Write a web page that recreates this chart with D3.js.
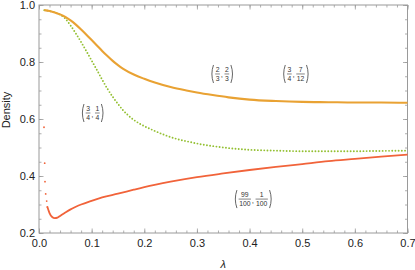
<!DOCTYPE html>
<html>
<head>
<meta charset="utf-8">
<script src="https://cdnjs.cloudflare.com/ajax/libs/d3/7.8.5/d3.min.js"></script>
<style>
  html, body { margin: 0; padding: 0; background: #fff; }
  svg text { font-family: "Liberation Sans", Arial, sans-serif; }
</style>
</head>
<body>
<svg id="chart" width="415" height="270"></svg>
<script>
// values
var orangeLam = [0.01, 0.02, 0.03, 0.04, 0.05, 0.06, 0.07, 0.08, 0.09, 0.10, 0.11, 0.12, 0.13, 0.14, 0.15, 0.16, 0.18, 0.20, 0.22, 0.25, 0.28, 0.30, 0.33, 0.36, 0.40, 0.45, 0.50, 0.55, 0.60, 0.65, 0.70];
var orangeVal = [0.982, 0.979, 0.974, 0.967, 0.958, 0.946, 0.931, 0.914, 0.896, 0.877, 0.858, 0.839, 0.821, 0.804, 0.789, 0.776, 0.756, 0.741, 0.728, 0.712, 0.700, 0.693, 0.684, 0.676, 0.668, 0.663, 0.660, 0.659, 0.658, 0.658, 0.657];

var greenLam = [0.01, 0.02, 0.03, 0.04, 0.05, 0.06, 0.07, 0.08, 0.09, 0.10, 0.11, 0.12, 0.13, 0.14, 0.15, 0.16, 0.17, 0.18, 0.19, 0.20, 0.22, 0.24, 0.26, 0.28, 0.30, 0.33, 0.36, 0.40, 0.45, 0.50, 0.55, 0.60, 0.65, 0.70];
var greenVal = [0.982, 0.979, 0.974, 0.966, 0.952, 0.928, 0.900, 0.870, 0.838, 0.805, 0.772, 0.738, 0.706, 0.678, 0.653, 0.630, 0.612, 0.597, 0.585, 0.575, 0.558, 0.543, 0.531, 0.522, 0.514, 0.505, 0.498, 0.492, 0.489, 0.487, 0.487, 0.487, 0.488, 0.489];

var redLam = [0.0095, 0.0108, 0.0114, 0.0127, 0.0146, 0.0158, 0.018, 0.020, 0.025, 0.030, 0.035, 0.040, 0.050, 0.060, 0.070, 0.080, 0.10, 0.12, 0.15, 0.18, 0.20, 0.25, 0.30, 0.35, 0.40, 0.45, 0.50, 0.55, 0.60, 0.65, 0.70];
var redVal = [0.571, 0.445, 0.380, 0.337, 0.312, 0.292, 0.280, 0.270, 0.256, 0.252, 0.254, 0.260, 0.272, 0.283, 0.292, 0.300, 0.313, 0.325, 0.338, 0.352, 0.361, 0.380, 0.396, 0.409, 0.421, 0.432, 0.442, 0.452, 0.460, 0.468, 0.475];
var redDotCount = 6; // first samples show as separate dots

var xTicks = [0, 0.1, 0.2, 0.3, 0.4, 0.5, 0.6, 0.7];
var yTicks = [0.2, 0.4, 0.6, 0.8, 1.0];

// pair labels: numerators, denominators, anchor (lambda, density)
var pairNum = [["2", "2"], ["3", "7"], ["3", "1"], ["99", "1"]];
var pairDen = [["3", "3"], ["4", "12"], ["4", "4"], ["100", "100"]];
var pairLam = [0.348, 0.488, 0.102, 0.407];
var pairVal = [0.758, 0.758, 0.621, 0.319];

var margin = {left: 39, top: 5, right: 7.5, bottom: 37};
var W = 415, H = 270;

var svg = d3.select("#chart");

var x = d3.scaleLinear().domain([0, 0.7]).range([margin.left, W - margin.right]);
var y = d3.scaleLinear().domain([0.2, 1.0]).range([H - margin.bottom, margin.top]);

var frameCol = "#9a9a9a";

// minor ticks
var xMinor = d3.range(0, 0.7001, 0.02).map(function(v){ return +v.toFixed(2); });
var yMinor = d3.range(0.2, 1.0001, 0.05).map(function(v){ return +v.toFixed(2); });

function styleAxis(g){
	g.select(".domain").remove();
	g.selectAll("line").attr("stroke", frameCol).attr("stroke-width", 0.8);
	g.selectAll("text").attr("fill", "#222").style("font-size", "11px");
}

svg.append("g").attr("transform", "translate(0," + y(0.2) + ")")
	.call(d3.axisBottom(x).tickValues(xMinor).tickSize(-2.5).tickFormat(""))
	.call(styleAxis);
svg.append("g").attr("transform", "translate(0," + y(0.2) + ")")
	.call(d3.axisBottom(x).tickValues(xTicks).tickSize(-4.5).tickPadding(6).tickFormat(d3.format(".1f")))
	.call(styleAxis);
svg.append("g").attr("transform", "translate(0," + y(1.0) + ")")
	.call(d3.axisTop(x).tickValues(xMinor).tickSize(-2.5).tickFormat(""))
	.call(styleAxis);
svg.append("g").attr("transform", "translate(0," + y(1.0) + ")")
	.call(d3.axisTop(x).tickValues(xTicks).tickSize(-4.5).tickFormat(""))
	.call(styleAxis);

svg.append("g").attr("transform", "translate(" + x(0) + ",0)")
	.call(d3.axisLeft(y).tickValues(yMinor).tickSize(-2.5).tickFormat(""))
	.call(styleAxis);
svg.append("g").attr("transform", "translate(" + x(0) + ",0)")
	.call(d3.axisLeft(y).tickValues(yTicks).tickSize(-4.5).tickPadding(4).tickFormat(d3.format(".1f")))
	.call(styleAxis);
svg.append("g").attr("transform", "translate(" + x(0.7) + ",0)")
	.call(d3.axisRight(y).tickValues(yMinor).tickSize(-2.5).tickFormat(""))
	.call(styleAxis);
svg.append("g").attr("transform", "translate(" + x(0.7) + ",0)")
	.call(d3.axisRight(y).tickValues(yTicks).tickSize(-4.5).tickFormat(""))
	.call(styleAxis);

svg.append("rect")
	.attr("x", x(0)).attr("y", y(1.0))
	.attr("width", x(0.7) - x(0)).attr("height", y(0.2) - y(1.0))
	.attr("fill", "none").attr("stroke", frameCol).attr("stroke-width", 1);

// axis titles
svg.append("text")
	.attr("transform", "translate(10," + 110 + ") rotate(-90)")
	.attr("text-anchor", "middle")
	.style("font-size", "11px").attr("fill", "#222")
	.text("Density");
svg.append("text")
	.attr("x", (x(0) + x(0.7)) / 2).attr("y", 268)
	.attr("text-anchor", "middle")
	.style("font-size", "11px").style("font-style", "italic").attr("fill", "#222")
	.text("λ");

// curves
var line = d3.line()
	.x(function(d){ return x(d[0]); })
	.y(function(d){ return y(d[1]); })
	.curve(d3.curveMonotoneX);

var orange = d3.zip(orangeLam, orangeVal);
var green = d3.zip(greenLam, greenVal);
var red = d3.zip(redLam, redVal);

svg.append("path").attr("d", line(green))
	.attr("fill", "none").attr("stroke", "#94c033")
	.attr("stroke-width", 1.9).attr("stroke-linecap", "round")
	.attr("stroke-dasharray", "0 3.2");

svg.append("path").attr("d", line(orange))
	.attr("fill", "none").attr("stroke", "#e9a233").attr("stroke-width", 2.1);

svg.append("path").attr("d", line(red.slice(redDotCount - 1)))
	.attr("fill", "none").attr("stroke", "#f1633a").attr("stroke-width", 1.8);

svg.selectAll(".rdot").data(red.slice(0, redDotCount)).enter()
	.append("circle").attr("class", "rdot")
	.attr("cx", function(d){ return x(d[0]); })
	.attr("cy", function(d){ return y(d[1]); })
	.attr("r", 0.9).attr("fill", "#f1633a");

// fraction pair labels
function drawPair(i){
	var g = svg.append("g")
		.attr("transform", "translate(" + x(pairLam[i]) + "," + y(pairVal[i]) + ")");
	var fs = 6.8, cx = 4;
	var parts = [];
	for (var k = 0; k < 2; k++){
		var w = Math.max(pairNum[i][k].length, pairDen[i][k].length) * fs * 0.56 + 1.5;
		parts.push({k: k, x: cx, w: w});
		cx += w;
		if (k == 0) cx += 4;
	}
	var total = cx + 4;
	var ox = -total / 2;
	// parentheses
	g.append("path")
		.attr("d", "M" + (ox + 2.6) + ",-9 Q" + (ox - 0.6) + ",0 " + (ox + 2.6) + ",9")
		.attr("fill", "none").attr("stroke", "#333").attr("stroke-width", 0.75);
	g.append("path")
		.attr("d", "M" + (ox + total - 2.6) + ",-9 Q" + (ox + total + 0.6) + ",0 " + (ox + total - 2.6) + ",9")
		.attr("fill", "none").attr("stroke", "#333").attr("stroke-width", 0.75);
	parts.forEach(function(p){
		var mx = ox + p.x + p.w / 2;
		g.append("text").attr("x", mx).attr("y", -2.2)
			.attr("text-anchor", "middle").style("font-size", fs + "px").attr("fill", "#333")
			.text(pairNum[i][p.k]);
		g.append("line")
			.attr("x1", ox + p.x + 0.3).attr("x2", ox + p.x + p.w - 0.3)
			.attr("y1", 0).attr("y2", 0)
			.attr("stroke", "#333").attr("stroke-width", 0.6);
		g.append("text").attr("x", mx).attr("y", 7)
			.attr("text-anchor", "middle").style("font-size", fs + "px").attr("fill", "#333")
			.text(pairDen[i][p.k]);
	});
	g.append("text").attr("x", ox + parts[0].x + parts[0].w + 0.6).attr("y", 3.5)
		.style("font-size", "8px").attr("fill", "#333").text(",");
}

for (var i = 0; i < pairNum.length; i++) drawPair(i);
</script>
</body>
</html>
